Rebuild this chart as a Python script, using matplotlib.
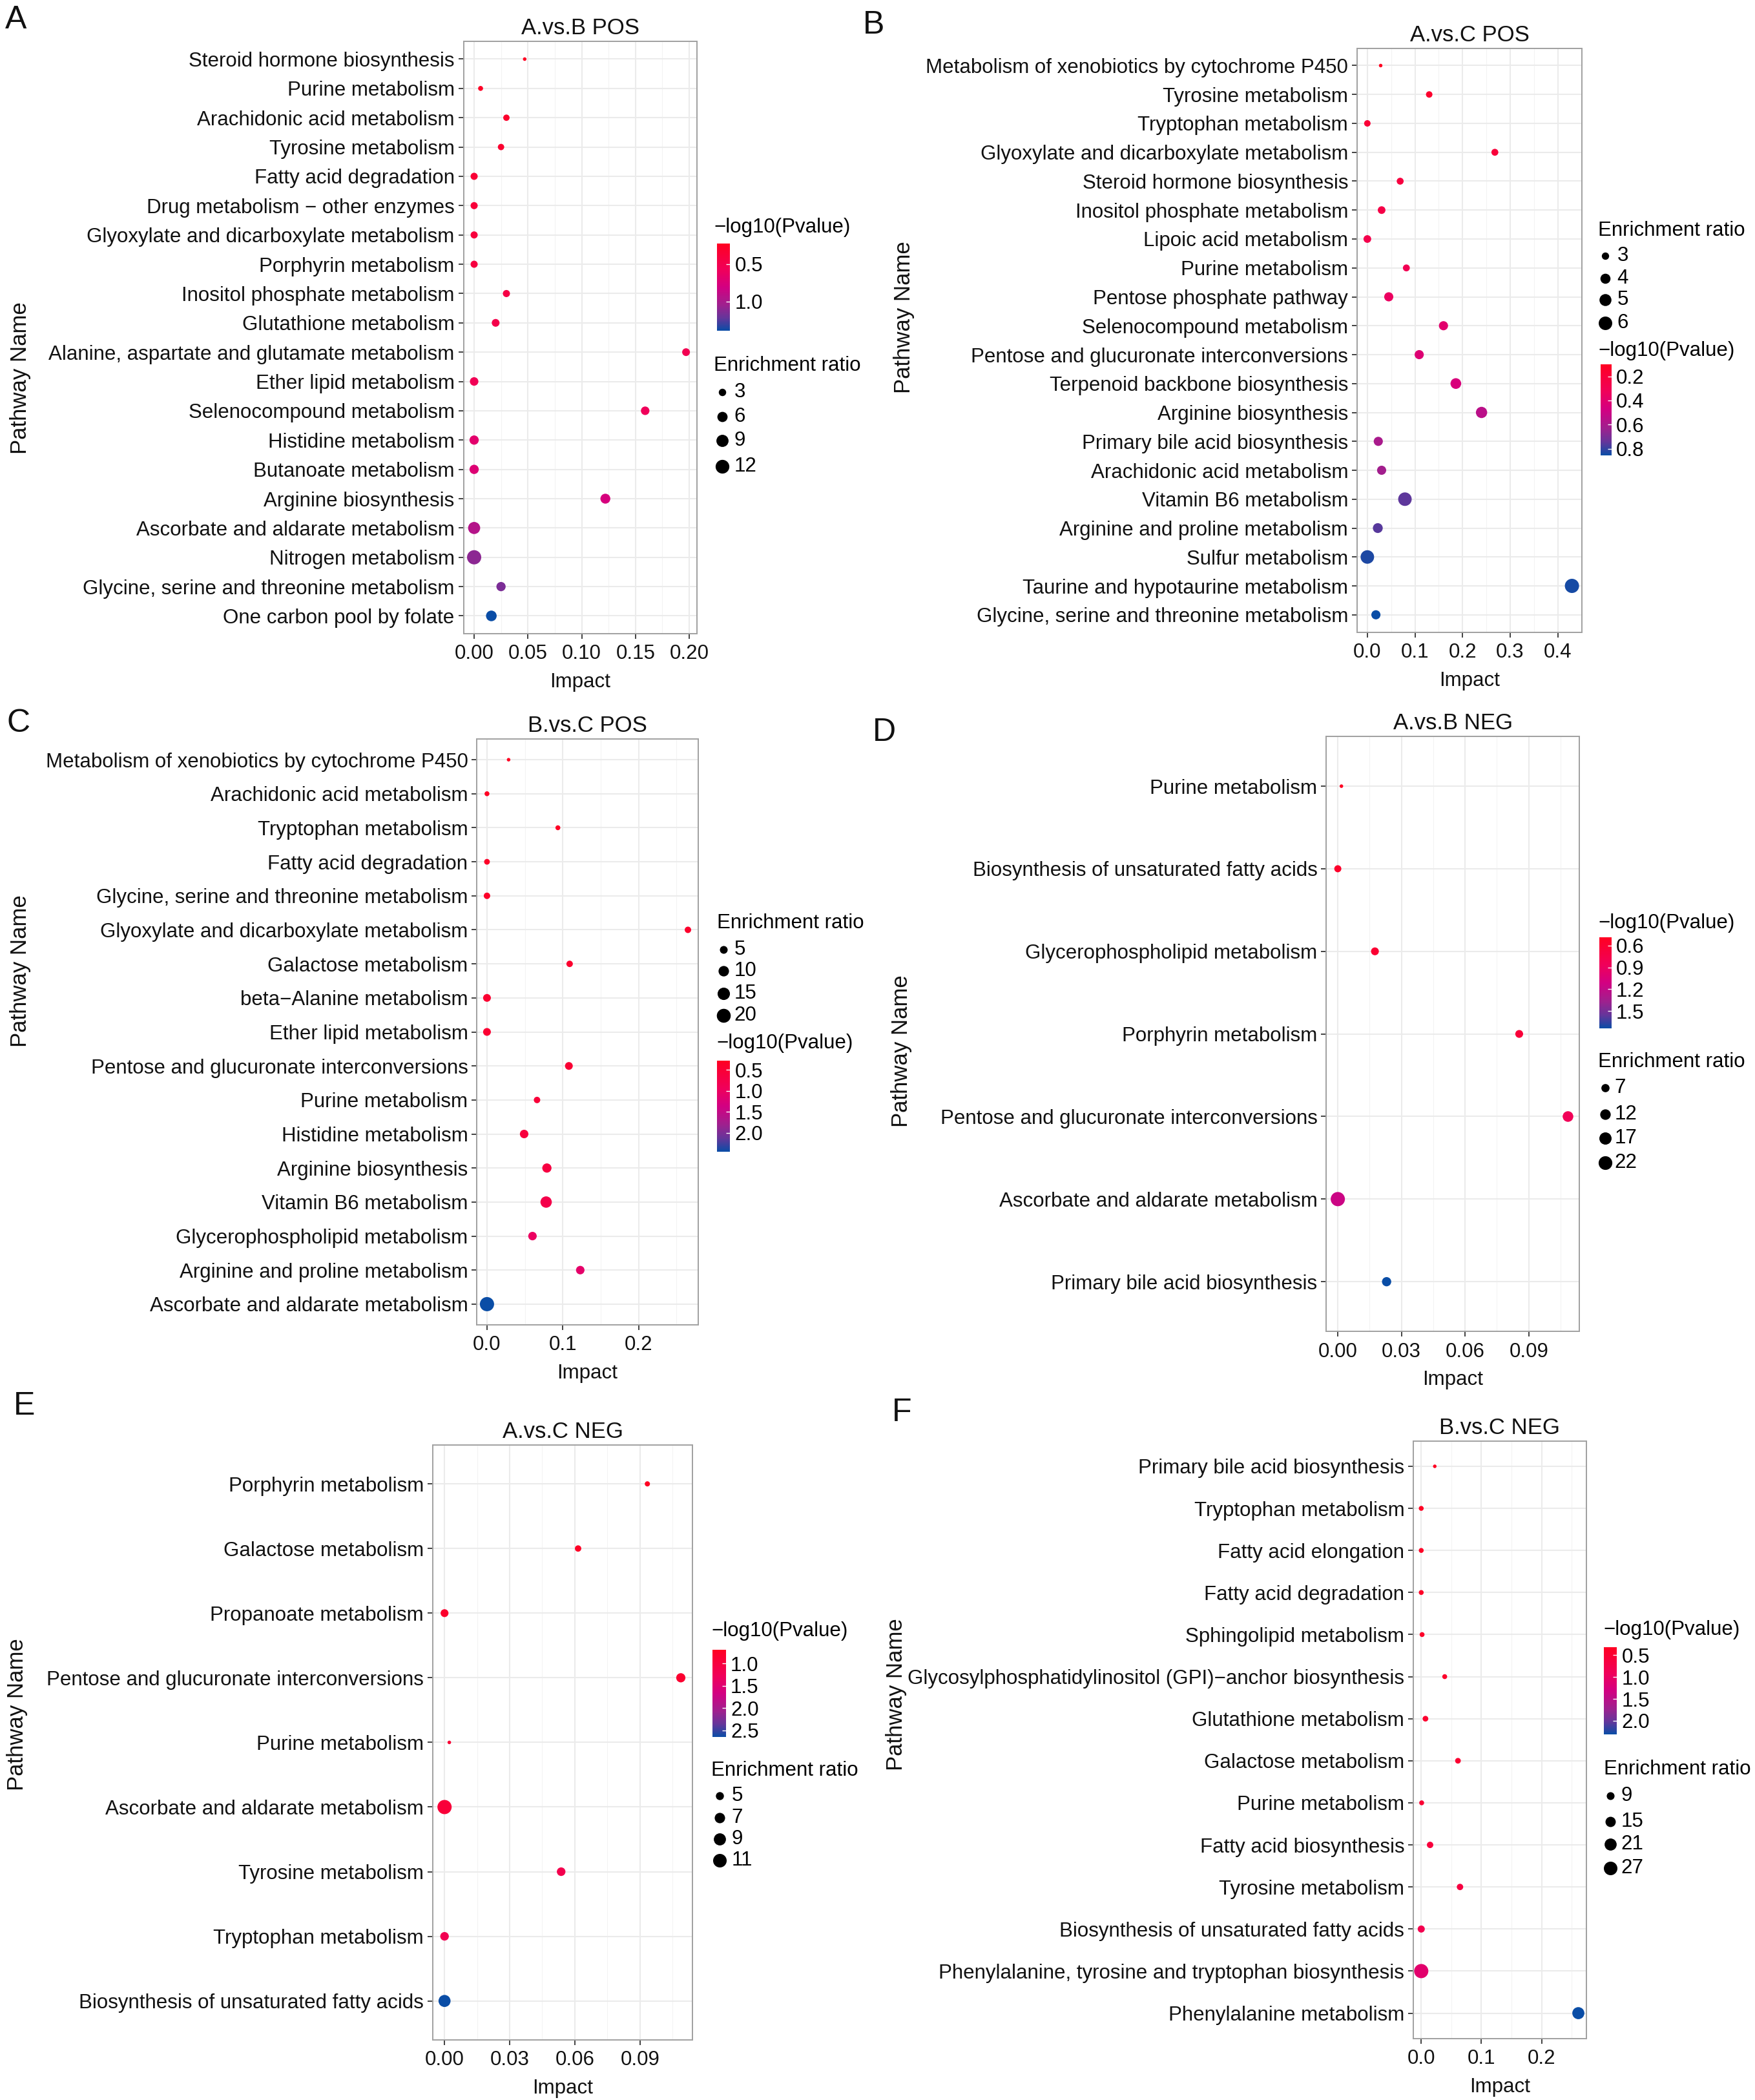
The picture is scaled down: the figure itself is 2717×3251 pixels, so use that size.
import numpy as np
import matplotlib
matplotlib.use("Agg")
import matplotlib.pyplot as plt
from matplotlib.colors import LinearSegmentedColormap, Normalize
from matplotlib.cm import ScalarMappable
from matplotlib.ticker import MultipleLocator, FormatStrFormatter

plt.rcParams['font.family'] = ['Liberation Sans', 'DejaVu Sans']

# ---- data (rows listed top to bottom) ----
a_pathways = ["Steroid hormone biosynthesis", "Purine metabolism", "Arachidonic acid metabolism",
              "Tyrosine metabolism", "Fatty acid degradation", "Drug metabolism \u2212 other enzymes",
              "Glyoxylate and dicarboxylate metabolism", "Porphyrin metabolism",
              "Inositol phosphate metabolism", "Glutathione metabolism",
              "Alanine, aspartate and glutamate metabolism", "Ether lipid metabolism",
              "Selenocompound metabolism", "Histidine metabolism", "Butanoate metabolism",
              "Arginine biosynthesis", "Ascorbate and aldarate metabolism", "Nitrogen metabolism",
              "Glycine, serine and threonine metabolism", "One carbon pool by folate"]
a_impact = [0.047, 0.006, 0.030, 0.025, 0.0, 0.0, 0.0, 0.0, 0.030, 0.020,
            0.197, 0.0, 0.159, 0.0, 0.0, 0.122, 0.0, 0.0, 0.025, 0.016]
a_pval = [0.23, 0.26, 0.29, 0.32, 0.35, 0.38, 0.40, 0.42, 0.45, 0.48,
          0.52, 0.55, 0.58, 0.68, 0.72, 0.78, 0.95, 1.10, 1.15, 1.39]
a_ratio = [1.5, 1.7, 2.3, 2.3, 2.8, 2.8, 2.8, 2.8, 2.8, 3.3,
           3.3, 4.0, 4.0, 4.8, 4.8, 5.6, 8.9, 13.0, 4.8, 6.6]
a_ratio_breaks = [3, 6, 9, 12]
a_pval_ticks = [0.5, 1.0]

b_pathways = ["Metabolism of xenobiotics by cytochrome P450", "Tyrosine metabolism",
              "Tryptophan metabolism", "Glyoxylate and dicarboxylate metabolism",
              "Steroid hormone biosynthesis", "Inositol phosphate metabolism",
              "Lipoic acid metabolism", "Purine metabolism", "Pentose phosphate pathway",
              "Selenocompound metabolism", "Pentose and glucuronate interconversions",
              "Terpenoid backbone biosynthesis", "Arginine biosynthesis",
              "Primary bile acid biosynthesis", "Arachidonic acid metabolism",
              "Vitamin B6 metabolism", "Arginine and proline metabolism", "Sulfur metabolism",
              "Taurine and hypotaurine metabolism", "Glycine, serine and threonine metabolism"]
b_impact = [0.028, 0.130, 0.0, 0.268, 0.069, 0.030, 0.0, 0.082, 0.045, 0.160,
            0.109, 0.186, 0.240, 0.023, 0.030, 0.079, 0.022, 0.0, 0.430, 0.018]
b_pval = [0.10, 0.15, 0.18, 0.20, 0.22, 0.25, 0.27, 0.30, 0.35, 0.40,
          0.42, 0.45, 0.55, 0.60, 0.62, 0.75, 0.76, 0.83, 0.84, 0.855]
b_ratio = [2.5, 2.8, 2.8, 2.9, 2.9, 3.1, 3.1, 2.9, 3.6, 3.6,
           3.6, 4.3, 4.6, 3.6, 3.6, 6.0, 3.9, 6.0, 6.5, 3.6]
b_ratio_breaks = [3, 4, 5, 6]
b_pval_ticks = [0.2, 0.4, 0.6, 0.8]

c_pathways = ["Metabolism of xenobiotics by cytochrome P450", "Arachidonic acid metabolism",
              "Tryptophan metabolism", "Fatty acid degradation",
              "Glycine, serine and threonine metabolism", "Glyoxylate and dicarboxylate metabolism",
              "Galactose metabolism", "beta\u2212Alanine metabolism", "Ether lipid metabolism",
              "Pentose and glucuronate interconversions", "Purine metabolism",
              "Histidine metabolism", "Arginine biosynthesis", "Vitamin B6 metabolism",
              "Glycerophospholipid metabolism", "Arginine and proline metabolism",
              "Ascorbate and aldarate metabolism"]
c_impact = [0.0285, 0.0, 0.0935, 0.0, 0.0, 0.265, 0.109, 0.0, 0.0, 0.108,
            0.066, 0.049, 0.079, 0.078, 0.060, 0.123, 0.0]
c_pval = [0.28, 0.30, 0.32, 0.35, 0.37, 0.40, 0.42, 0.45, 0.47, 0.50,
          0.55, 0.60, 0.65, 0.75, 1.00, 1.10, 2.45]
c_ratio = [2.0, 2.3, 2.3, 2.8, 3.4, 3.4, 3.4, 5.0, 5.0, 5.0,
           3.4, 6.1, 7.4, 12.2, 6.1, 6.1, 21.0]
c_ratio_breaks = [5, 10, 15, 20]
c_pval_ticks = [0.5, 1.0, 1.5, 2.0]

d_pathways = ["Purine metabolism", "Biosynthesis of unsaturated fatty acids",
              "Glycerophospholipid metabolism", "Porphyrin metabolism",
              "Pentose and glucuronate interconversions", "Ascorbate and aldarate metabolism",
              "Primary bile acid biosynthesis"]
d_impact = [0.0017, 0.0, 0.0175, 0.0855, 0.1085, 0.0, 0.023]
d_pval = [0.49, 0.55, 0.60, 0.65, 0.85, 1.15, 1.74]
d_ratio = [3.0, 5.3, 6.4, 6.4, 12.3, 24.0, 9.0]
d_ratio_breaks = [7, 12, 17, 22]
d_pval_ticks = [0.6, 0.9, 1.2, 1.5]

e_pathways = ["Porphyrin metabolism", "Galactose metabolism", "Propanoate metabolism",
              "Pentose and glucuronate interconversions", "Purine metabolism",
              "Ascorbate and aldarate metabolism", "Tyrosine metabolism",
              "Tryptophan metabolism", "Biosynthesis of unsaturated fatty acids"]
e_impact = [0.0934, 0.0615, 0.0, 0.1088, 0.0022, 0.0, 0.0537, 0.0, 0.0]
e_pval = [0.70, 0.75, 0.80, 0.85, 0.90, 0.95, 1.15, 1.20, 2.65]
e_ratio = [3.7, 4.1, 4.9, 5.9, 3.5, 12.0, 5.4, 5.4, 8.9]
e_ratio_breaks = [5, 7, 9, 11]
e_pval_ticks = [1.0, 1.5, 2.0, 2.5]

f_pathways = ["Primary bile acid biosynthesis", "Tryptophan metabolism", "Fatty acid elongation",
              "Fatty acid degradation", "Sphingolipid metabolism",
              "Glycosylphosphatidylinositol (GPI)\u2212anchor biosynthesis",
              "Glutathione metabolism", "Galactose metabolism", "Purine metabolism",
              "Fatty acid biosynthesis", "Tyrosine metabolism",
              "Biosynthesis of unsaturated fatty acids",
              "Phenylalanine, tyrosine and tryptophan biosynthesis", "Phenylalanine metabolism"]
f_impact = [0.0225, 0.0, 0.0, 0.0, 0.0014, 0.039, 0.007, 0.061, 0.0007, 0.0147,
            0.0644, 0.0, 0.0, 0.261]
f_pval = [0.32, 0.34, 0.36, 0.38, 0.40, 0.42, 0.45, 0.48, 0.50, 0.60,
          0.65, 0.80, 1.10, 2.31]
f_ratio = [5.0, 5.4, 5.4, 5.4, 5.4, 5.4, 6.0, 6.0, 5.4, 6.8,
           6.8, 7.8, 30.0, 21.0]
f_ratio_breaks = [9, 15, 21, 27]
f_pval_ticks = [0.5, 1.0, 1.5, 2.0]

# red (low -log10 p) to blue (high), like the ggplot gradient
cmap = LinearSegmentedColormap.from_list("rb", [(0.0, "#FF0022"), (0.3, "#F0005A"),
                                               (0.5, "#D20082"), (0.7, "#A0208E"),
                                               (0.85, "#66359A"), (1.0, "#0A4DA6")])

# layout grid (reference measured on a 1310 x 1568 grid)
W, H = 1310.0, 1568.0
FS = 22.5

fig = plt.figure(figsize=(27.17, 32.51), dpi=100)
ov = fig.add_axes([0, 0, 1, 1], zorder=5)
ov.set_xlim(0, W)
ov.set_ylim(H, 0)
ov.axis('off')
ov.patch.set_alpha(0)


def rect(x0, y0, x1, y1):
    return [x0 / W, 1 - y1 / H, (x1 - x0) / W, (y1 - y0) / H]


def dot_size(v, vmin, vmax):
    t = np.clip((np.asarray(v, float) - vmin) / (vmax - vmin), 0, 1)
    d_px = 5.5 + 16.5 * np.sqrt(t)
    return (d_px * 0.72) ** 2


def draw_panel(p):
    names, impact, pval, ratio = p['names'], np.array(p['impact']), np.array(p['pval']), np.array(p['ratio'])
    n = len(names)
    ax = fig.add_axes(rect(*p['box']))
    norm = Normalize(pval.min(), pval.max())
    rmin, rmax = ratio.min(), ratio.max()
    ypos = np.arange(n)
    ax.scatter(impact, ypos, s=dot_size(ratio, rmin, rmax), c=cmap(norm(pval)),
               linewidths=0, zorder=3)
    span = impact.max() - impact.min()
    ax.set_xlim(impact.min() - 0.05 * span, impact.max() + 0.05 * span)
    ax.set_ylim(n - 1 + 0.6, -0.6)
    ax.set_yticks(ypos)
    ax.set_yticklabels(names)
    ax.xaxis.set_major_locator(MultipleLocator(p['xstep']))
    ax.xaxis.set_minor_locator(MultipleLocator(p['xstep'] / 2))
    ax.xaxis.set_major_formatter(FormatStrFormatter(p['xfmt']))
    ax.grid(True, which='major', color='#EBEBEB', lw=1.5, zorder=0)
    ax.grid(True, which='minor', axis='x', color='#F3F3F3', lw=0.8, zorder=0)
    ax.set_axisbelow(True)
    ax.tick_params(which='major', length=6, width=1.3, color='#333333',
                   labelsize=FS, labelcolor='#111111', pad=4)
    ax.tick_params(axis='x', pad=6)
    ax.tick_params(which='minor', length=0)
    for sp in ax.spines.values():
        sp.set_color('#A0A0A0')
        sp.set_linewidth(1.4)
    ax.set_title(p['title'], fontsize=25, pad=8, color='#111111')
    ax.set_xlabel('Impact', fontsize=FS, labelpad=10, color='#111111')

    # y axis title and panel letter
    ov.text(p['ylab'][0], p['ylab'][1], 'Pathway Name', rotation=90, fontsize=25,
            ha='center', va='center', color='#111111')
    ov.text(p['letter'][0], p['letter'][1], p['key'], fontsize=36,
            ha='center', va='center', color='#111111')

    # colour legend
    lx, ty = p['cb_title']
    ov.text(lx, ty, '\u2212log10(Pvalue)', fontsize=FS, ha='left', va='center')
    cax = fig.add_axes(rect(*p['cb_box']))
    cb = fig.colorbar(ScalarMappable(norm=norm, cmap=cmap), cax=cax)
    cb.outline.set_visible(False)
    cax.invert_yaxis()
    cb.set_ticks(p['pticks'])
    cb.set_ticklabels(['%.1f' % t for t in p['pticks']])
    cax.tick_params(length=4, width=1, color='white', direction='in',
                    labelsize=FS, pad=5)

    # size legend
    sx, sy = p['sz_title']
    ov.text(sx, sy, 'Enrichment ratio', fontsize=FS, ha='left', va='center')
    dx, tx = p['sz_x']
    for br, yy in zip(p['breaks'], p['sz_y']):
        ov.scatter([dx], [yy], s=dot_size(br, rmin, rmax), color='black', linewidths=0)
        ov.text(tx, yy, str(br), fontsize=FS, ha='left', va='center')


panels = [
    dict(key='A', title='A.vs.B POS', names=a_pathways, impact=a_impact, pval=a_pval,
         ratio=a_ratio, breaks=a_ratio_breaks, pticks=a_pval_ticks, xstep=0.05, xfmt='%.2f',
         box=(346, 31, 520, 473), ylab=(15, 282), letter=(12, 15),
         cb_title=(533, 170), cb_box=(535, 182, 545, 247),
         sz_title=(533, 273), sz_x=(539, 548), sz_y=[293, 311, 329, 348]),
    dict(key='B', title='A.vs.C POS', names=b_pathways, impact=b_impact, pval=b_pval,
         ratio=b_ratio, breaks=b_ratio_breaks, pticks=b_pval_ticks, xstep=0.1, xfmt='%.1f',
         box=(1013, 36, 1181, 472), ylab=(675, 237), letter=(652, 19),
         cb_title=(1193, 262), cb_box=(1195, 272, 1203, 340),
         sz_title=(1193, 172), sz_x=(1198, 1207), sz_y=[191, 208, 224, 241]),
    dict(key='C', title='B.vs.C POS', names=c_pathways, impact=c_impact, pval=c_pval,
         ratio=c_ratio, breaks=c_ratio_breaks, pticks=c_pval_ticks, xstep=0.1, xfmt='%.1f',
         box=(356, 552, 521, 989), ylab=(15, 725), letter=(14, 540),
         cb_title=(535, 779), cb_box=(535, 792, 545, 860),
         sz_title=(535, 689), sz_x=(540, 548), sz_y=[709, 725, 742, 758]),
    dict(key='D', title='A.vs.B NEG', names=d_pathways, impact=d_impact, pval=d_pval,
         ratio=d_ratio, breaks=d_ratio_breaks, pticks=d_pval_ticks, xstep=0.03, xfmt='%.2f',
         box=(990, 550, 1179, 994), ylab=(673, 785), letter=(660, 547),
         cb_title=(1193, 689), cb_box=(1194, 700, 1203, 768),
         sz_title=(1193, 793), sz_x=(1198, 1205), sz_y=[812, 832, 850, 868]),
    dict(key='E', title='A.vs.C NEG', names=e_pathways, impact=e_impact, pval=e_pval,
         ratio=e_ratio, breaks=e_ratio_breaks, pticks=e_pval_ticks, xstep=0.03, xfmt='%.2f',
         box=(323, 1079, 517, 1523), ylab=(13, 1280), letter=(18, 1050),
         cb_title=(531, 1218), cb_box=(532, 1232, 542, 1297),
         sz_title=(531, 1322), sz_x=(537, 546), sz_y=[1341, 1357, 1373, 1389]),
    dict(key='F', title='B.vs.C NEG', names=f_pathways, impact=f_impact, pval=f_pval,
         ratio=f_ratio, breaks=f_ratio_breaks, pticks=f_pval_ticks, xstep=0.1, xfmt='%.1f',
         box=(1055, 1076, 1184, 1522), ylab=(669, 1265), letter=(673, 1055),
         cb_title=(1197, 1217), cb_box=(1197, 1230, 1207, 1295),
         sz_title=(1197, 1321), sz_x=(1202, 1210), sz_y=[1341, 1360, 1377, 1395]),
]

for p in panels:
    draw_panel(p)

fig.savefig('out.png', dpi=100, facecolor='white')
